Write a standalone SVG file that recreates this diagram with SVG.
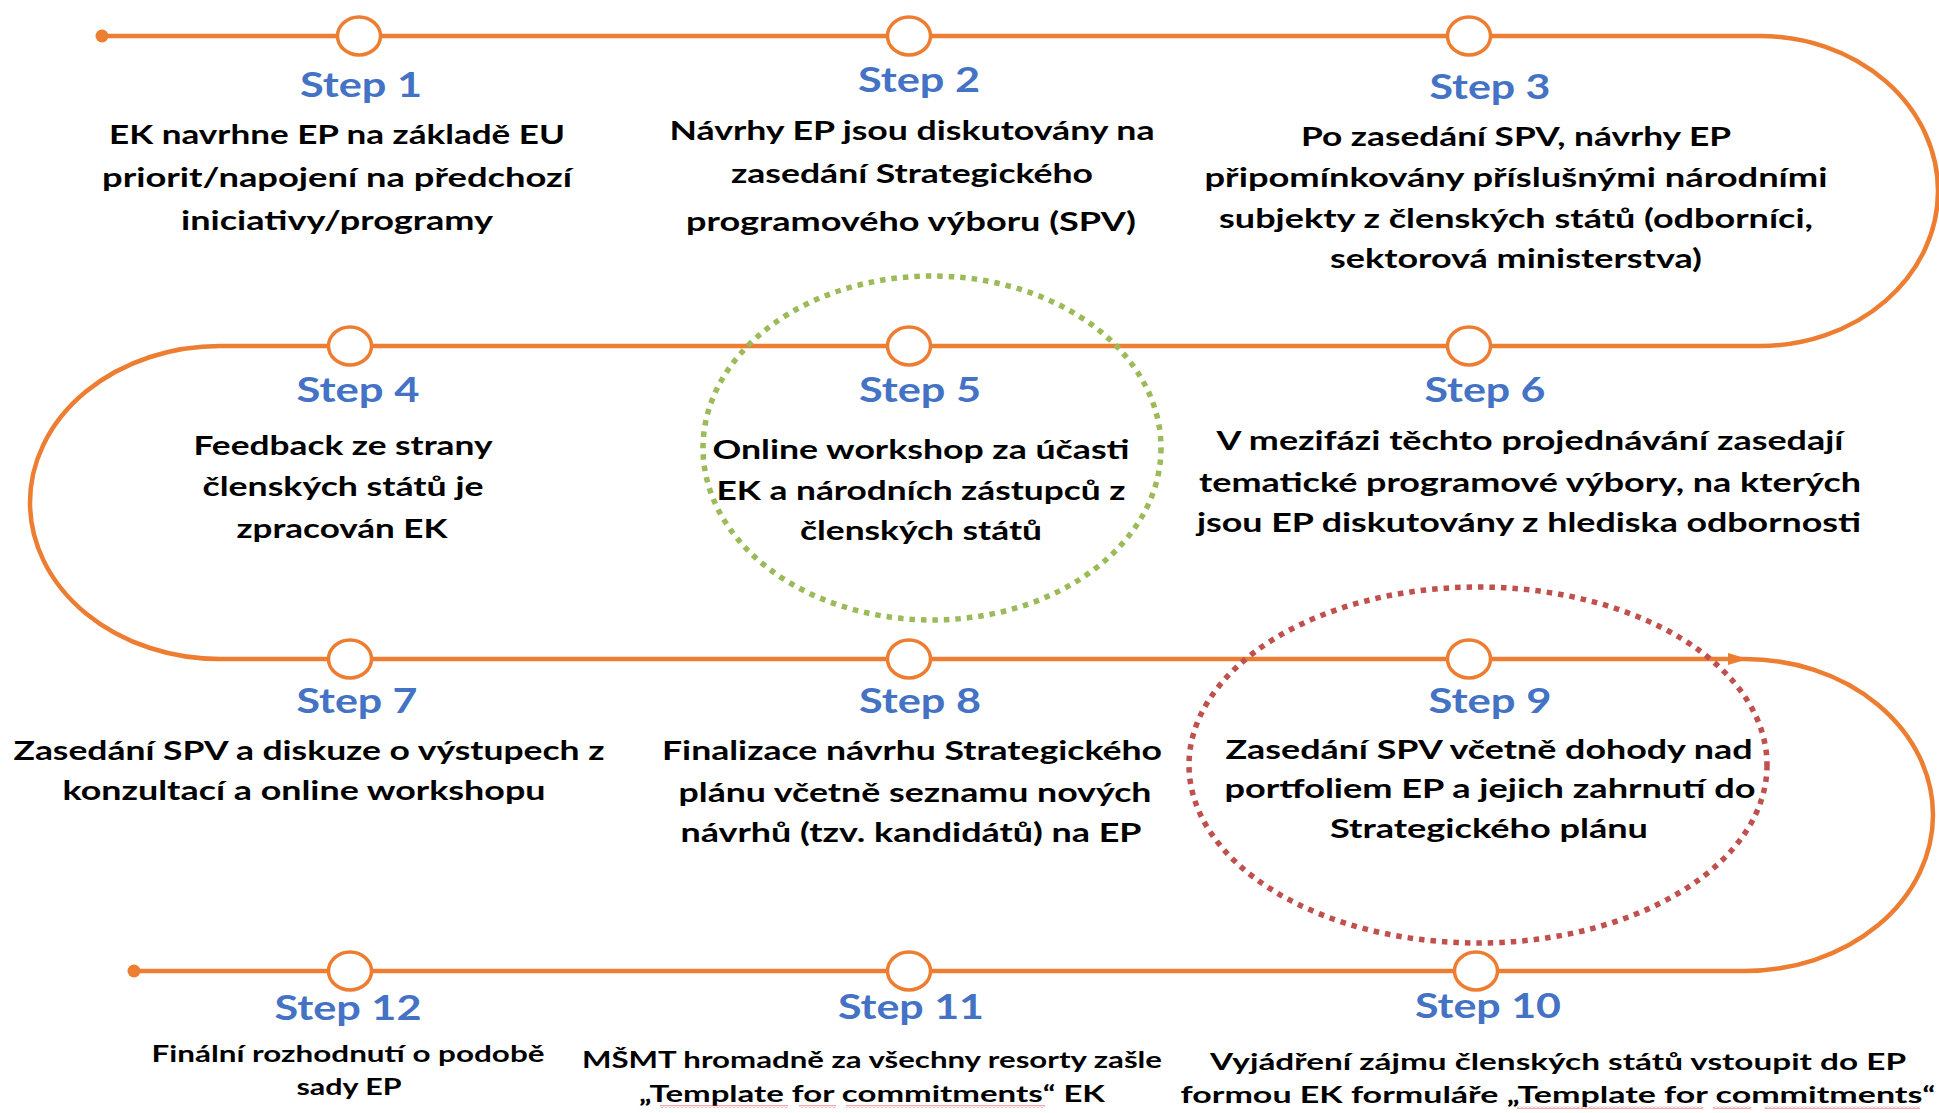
<svg xmlns="http://www.w3.org/2000/svg" width="1939" height="1113" viewBox="0 0 1939 1113">
<defs>
<style>
.track{fill:none;stroke:#ED7D31;stroke-width:4.5}
.tip{fill:#ED7D31}
.knot{fill:#fff;stroke:#ED7D31;stroke-width:3.5}
.lbl{font-family:Lato,"Liberation Sans",sans-serif;font-weight:700;font-size:35px;fill:#4472C4;text-anchor:middle}
.txt{font-family:Lato,"Liberation Sans",sans-serif;font-weight:700;font-size:27px;fill:#000;text-anchor:middle}
.sm{font-size:23px}
.hlg{fill:none;stroke:#9BBB59;stroke-width:5.5;stroke-dasharray:5.5 6}
.hlr{fill:none;stroke:#C0504D;stroke-width:5.5;stroke-dasharray:5.5 6}
.wv{fill:url(#wave)}
</style>
<pattern id="wave" x="0" y="0" width="4" height="3" patternUnits="userSpaceOnUse">
<path d="M0,2.5 L2,0.5 L4,2.5" fill="none" stroke="#E04040" stroke-width="0.9"/>
</pattern>
</defs>
<rect width="1939" height="1113" fill="#fff"/>
<g id="connectors">
<path class="track" d="M102,36 H1760 A178,155 0 0 1 1760,346 H220 A190,156.5 0 0 0 220,659 H1745 A188,156 0 0 1 1745,971 H134"/>
<circle class="tip" cx="102" cy="36" r="6.5"/>
<circle class="tip" cx="134" cy="971" r="6.5"/>
<path class="tip" d="M1728,653 L1748,659 L1728,665 Z"/>
</g>
<g id="step1">
<ellipse class="knot" cx="359" cy="36" rx="21.5" ry="19"/>
<text class="lbl" x="361" y="97" textLength="122" lengthAdjust="spacingAndGlyphs">Step 1</text>
<text class="txt" x="337" y="144" textLength="456" lengthAdjust="spacingAndGlyphs">EK navrhne EP na základě EU</text>
<text class="txt" x="337" y="187" textLength="470" lengthAdjust="spacingAndGlyphs">priorit/napojení na předchozí</text>
<text class="txt" x="337" y="230" textLength="312" lengthAdjust="spacingAndGlyphs">iniciativy/programy</text>
</g>
<g id="step2">
<ellipse class="knot" cx="909" cy="36" rx="21.5" ry="19"/>
<text class="lbl" x="919" y="92" textLength="122" lengthAdjust="spacingAndGlyphs">Step 2</text>
<text class="txt" x="912" y="140" textLength="485" lengthAdjust="spacingAndGlyphs">Návrhy EP jsou diskutovány na</text>
<text class="txt" x="912" y="183" textLength="362" lengthAdjust="spacingAndGlyphs">zasedání Strategického</text>
<text class="txt" x="911" y="231" textLength="450" lengthAdjust="spacingAndGlyphs">programového výboru (SPV)</text>
</g>
<g id="step3">
<ellipse class="knot" cx="1469" cy="36" rx="21.5" ry="19"/>
<text class="lbl" x="1490" y="99" textLength="121" lengthAdjust="spacingAndGlyphs">Step 3</text>
<text class="txt" x="1516" y="146" textLength="430" lengthAdjust="spacingAndGlyphs">Po zasedání SPV, návrhy EP</text>
<text class="txt" x="1516" y="187" textLength="623" lengthAdjust="spacingAndGlyphs">připomínkovány příslušnými národními</text>
<text class="txt" x="1516" y="228" textLength="594" lengthAdjust="spacingAndGlyphs">subjekty z členských států (odborníci,</text>
<text class="txt" x="1516" y="268" textLength="372" lengthAdjust="spacingAndGlyphs">sektorová ministerstva)</text>
</g>
<g id="step4">
<ellipse class="knot" cx="350" cy="346" rx="21.5" ry="19"/>
<text class="lbl" x="358" y="402" textLength="123" lengthAdjust="spacingAndGlyphs">Step 4</text>
<text class="txt" x="343" y="455" textLength="299" lengthAdjust="spacingAndGlyphs">Feedback ze strany</text>
<text class="txt" x="343" y="496" textLength="281" lengthAdjust="spacingAndGlyphs">členských států je</text>
<text class="txt" x="342" y="538" textLength="211" lengthAdjust="spacingAndGlyphs">zpracován EK</text>
</g>
<g id="step5">
<ellipse class="hlg" cx="932" cy="448" rx="229" ry="172"/>
<ellipse class="knot" cx="909" cy="346" rx="21.5" ry="19"/>
<text class="lbl" x="920" y="402" textLength="122" lengthAdjust="spacingAndGlyphs">Step 5</text>
<text class="txt" x="921" y="459" textLength="417" lengthAdjust="spacingAndGlyphs">Online workshop za účasti</text>
<text class="txt" x="921" y="500" textLength="409" lengthAdjust="spacingAndGlyphs">EK a národních zástupců z</text>
<text class="txt" x="921" y="540" textLength="242" lengthAdjust="spacingAndGlyphs">členských států</text>
</g>
<g id="step6">
<ellipse class="knot" cx="1469" cy="346" rx="21.5" ry="19"/>
<text class="lbl" x="1485" y="402" textLength="121" lengthAdjust="spacingAndGlyphs">Step 6</text>
<text class="txt" x="1530" y="450" textLength="627" lengthAdjust="spacingAndGlyphs">V mezifázi těchto projednávání zasedají</text>
<text class="txt" x="1530" y="492" textLength="662" lengthAdjust="spacingAndGlyphs">tematické programové výbory, na kterých</text>
<text class="txt" x="1529" y="532" textLength="664" lengthAdjust="spacingAndGlyphs">jsou EP diskutovány z hlediska odbornosti</text>
</g>
<g id="step7">
<ellipse class="knot" cx="350" cy="659" rx="21.5" ry="19"/>
<text class="lbl" x="357" y="713" textLength="121" lengthAdjust="spacingAndGlyphs">Step 7</text>
<text class="txt" x="309" y="760" textLength="591" lengthAdjust="spacingAndGlyphs">Zasedání SPV a diskuze o výstupech z</text>
<text class="txt" x="304" y="800" textLength="483" lengthAdjust="spacingAndGlyphs">konzultací a online workshopu</text>
</g>
<g id="step8">
<ellipse class="knot" cx="909" cy="659" rx="21.5" ry="19"/>
<text class="lbl" x="920" y="713" textLength="122" lengthAdjust="spacingAndGlyphs">Step 8</text>
<text class="txt" x="912" y="760" textLength="500" lengthAdjust="spacingAndGlyphs">Finalizace návrhu Strategického</text>
<text class="txt" x="915" y="802" textLength="473" lengthAdjust="spacingAndGlyphs">plánu včetně seznamu nových</text>
<text class="txt" x="911" y="842" textLength="461" lengthAdjust="spacingAndGlyphs">návrhů (tzv. kandidátů) na EP</text>
</g>
<g id="step9">
<ellipse class="hlr" cx="1478" cy="765" rx="289" ry="178"/>
<ellipse class="knot" cx="1469" cy="659" rx="21.5" ry="19"/>
<text class="lbl" x="1490" y="713" textLength="123" lengthAdjust="spacingAndGlyphs">Step 9</text>
<text class="txt" x="1489" y="759" textLength="527" lengthAdjust="spacingAndGlyphs">Zasedání SPV včetně dohody nad</text>
<text class="txt" x="1490" y="798" textLength="531" lengthAdjust="spacingAndGlyphs">portfoliem EP a jejich zahrnutí do</text>
<text class="txt" x="1489" y="838" textLength="318" lengthAdjust="spacingAndGlyphs">Strategického plánu</text>
</g>
<g id="step10">
<ellipse class="knot" cx="1476" cy="971" rx="21.5" ry="19"/>
<text class="lbl" x="1488" y="1018" textLength="146" lengthAdjust="spacingAndGlyphs">Step 10</text>
<text class="txt sm" x="1558" y="1070" textLength="696" lengthAdjust="spacingAndGlyphs">Vyjádření zájmu členských států vstoupit do EP</text>
<text class="txt sm" x="1558" y="1103" textLength="755" lengthAdjust="spacingAndGlyphs">formou EK formuláře „Template for commitments“</text>
<rect class="wv" x="1517" y="1106" width="186" height="3"/>
<rect class="wv" x="1713" y="1106" width="38" height="3"/>
<rect class="wv" x="1765" y="1106" width="155" height="3"/>
</g>
<g id="step11">
<ellipse class="knot" cx="909" cy="971" rx="21.5" ry="19"/>
<text class="lbl" x="911" y="1019" textLength="146" lengthAdjust="spacingAndGlyphs">Step 11</text>
<text class="txt sm" x="872" y="1068" textLength="580" lengthAdjust="spacingAndGlyphs">MŠMT hromadně za všechny resorty zašle</text>
<text class="txt sm" x="872" y="1102" textLength="466" lengthAdjust="spacingAndGlyphs">„Template for commitments“ EK</text>
<rect class="wv" x="660" y="1105" width="128" height="3"/>
<rect class="wv" x="799" y="1105" width="37" height="3"/>
<rect class="wv" x="846" y="1105" width="199" height="3"/>
</g>
<g id="step12">
<ellipse class="knot" cx="350" cy="971" rx="21.5" ry="19"/>
<text class="lbl" x="348" y="1020" textLength="147" lengthAdjust="spacingAndGlyphs">Step 12</text>
<text class="txt sm" x="348" y="1062" textLength="393" lengthAdjust="spacingAndGlyphs">Finální rozhodnutí o podobě</text>
<text class="txt sm" x="349" y="1095" textLength="105" lengthAdjust="spacingAndGlyphs">sady EP</text>
</g>
</svg>
